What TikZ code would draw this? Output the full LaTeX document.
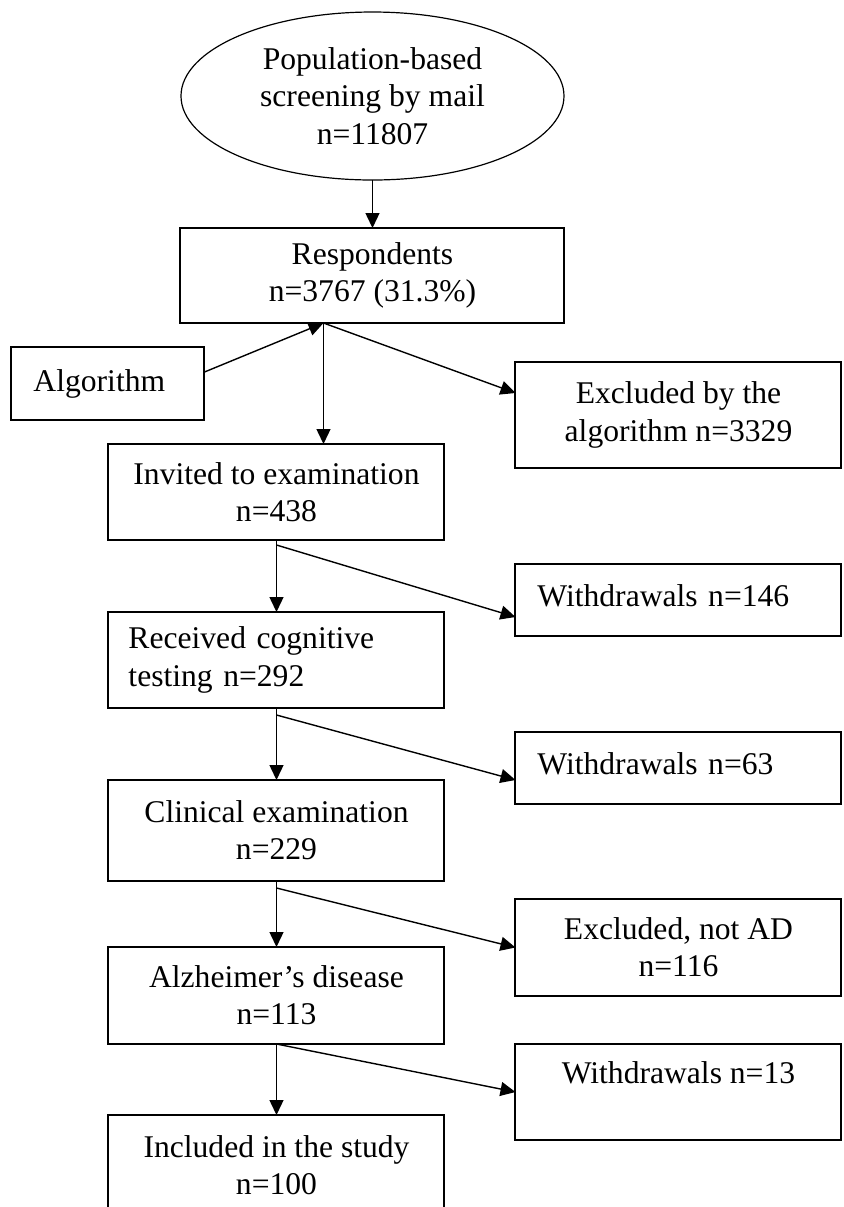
\documentclass[tikz,border=0pt]{standalone}
\usepackage{fontspec}
\setmainfont{Liberation Serif}
\usetikzlibrary{positioning,arrows.meta,calc,shapes.geometric}

\begin{document}
\begin{tikzpicture}[
  node distance=36pt and 35.5pt,
  box/.style={draw, line width=1pt, outer sep=0pt, inner sep=0pt, minimum width=168pt, minimum height=48pt, align=center, font=\fontsize{15.8}{18.6}\selectfont},
  side/.style={box, minimum width=163pt},
  lbox/.style={box, align=left, inner xsep=10pt, text width=148pt},
  lside/.style={side, align=left, inner xsep=11pt, text width=141pt},
  start/.style={ellipse, draw, line width=0.6pt, outer sep=0pt, inner sep=0pt, minimum width=191.5pt, minimum height=84pt, align=center, font=\fontsize{15.8}{18.6}\selectfont},
  arr/.style={-{Triangle[length=7.5pt,width=7pt]}, line width=0.7pt}
]
\useasboundingbox (-186.25pt,-555.5pt) rectangle (235.25pt,48pt);
\node[start] (pop) {Population-based\\screening by mail\\n=11807};
\node[box, below=24pt of pop, minimum width=192pt, minimum height=47.5pt] (resp) {Respondents\\n=3767 (31.3\%)};
\node[box, anchor=north west, minimum width=96.5pt, minimum height=36.5pt, align=left, inner xsep=11pt, text width=74.5pt] (algo) at ($(resp.south west)+(-84.5pt,-12pt)$) {Algorithm};
\node[box, below=60.5pt of resp, xshift=-48pt] (inv) {Invited to examination\\n=438};
\node[lbox, below=of inv] (rec) {Received cognitive\\testing n=292};
\node[box, below=of rec, minimum height=50.5pt] (clin) {Clinical examination\\n=229};
\node[box, below=33pt of clin, minimum height=48.5pt] (ad) {Alzheimer's disease\\n=113};
\node[box, below=35.5pt of ad, minimum height=50pt] (incl) {Included in the study\\n=100};
% exclusions on the right
\node[side, right=of inv, yshift=38.5pt, minimum height=53pt] (excl) {Excluded by the\\algorithm n=3329};
\node[lside, right=of rec, yshift=30pt, minimum height=36pt, text depth=4pt] (w146) {Withdrawals n=146};
\node[lside, right=of clin, yshift=31.25pt, minimum height=36pt, text depth=4pt] (w63) {Withdrawals n=63};
\node[side, right=of ad, yshift=24pt, minimum height=48.5pt] (notad) {Excluded, not AD\\n=116};
\node[side, right=of incl, yshift=36.5pt, minimum height=48pt, text height=11pt, text depth=20pt] (w13) {Withdrawals n=13};
\coordinate (rb) at ($(resp.south)+(-24.5pt,0)$);
\draw[arr] (pop) -- (resp);
\draw[arr] ([yshift=5.75pt]algo.east) -- (rb);
\draw[arr] (rb) -- (rb |- inv.north);
\draw[arr] (rb) -- ([yshift=11pt]excl.west);
\draw[arr] (inv) -- (rec);
\draw[arr] ([yshift=-2.5pt]inv.south) -- ([yshift=-8.5pt]w146.west);
\draw[arr] (rec) -- (clin);
\draw[arr] ([yshift=-3.5pt]rec.south) -- ([yshift=-6pt]w63.west);
\draw[arr] (clin) -- (ad);
\draw[arr] ([yshift=-3.5pt]clin.south) -- (notad.west);
\draw[arr] (ad) -- (incl);
\draw[arr] (ad.south) -- (w13.west);
\end{tikzpicture}
\end{document}
